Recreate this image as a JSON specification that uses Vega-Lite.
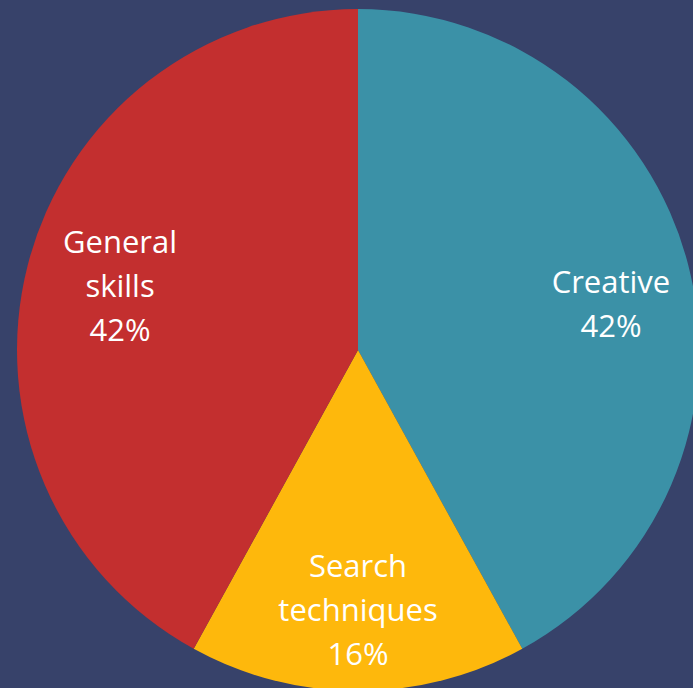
{
  "$schema": "https://vega.github.io/schema/vega-lite/v6.json",
  "width": 716,
  "height": 700,
  "autosize": "none",
  "padding": 0,
  "background": "#37426a",
  "view": {"stroke": null},
  "data": {"values": [
    {"category": "Creative", "value": 42, "idx": 1, "label": "Creative\n42%"},
    {"category": "Search techniques", "value": 16, "idx": 2, "label": "Search\ntechniques\n16%"},
    {"category": "General skills", "value": 42, "idx": 3, "label": "General\nskills\n42%"}
  ]},
  "encoding": {
    "theta": {"field": "value", "type": "quantitative", "stack": true},
    "order": {"field": "idx", "type": "quantitative"}
  },
  "layer": [
    {
      "mark": {"type": "arc", "outerRadius": 341, "stroke": null},
      "encoding": {
        "color": {
          "field": "category", "type": "nominal", "legend": null,
          "scale": {"domain": ["Creative", "Search techniques", "General skills"], "range": ["#3b91a7", "#feb80c", "#c32f2f"]}
        }
      }
    },
    {
      "mark": {"type": "text", "radius": 256, "dx": 5, "dy": -2, "fill": "white", "font": "Open Sans", "fontSize": 31, "lineHeight": 44, "lineBreak": "\n", "align": "center", "baseline": "middle"},
      "encoding": {"text": {"condition": {"test": "datum.category === 'Creative'", "field": "label"}, "value": ""}}
    },
    {
      "mark": {"type": "text", "radius": 256, "dy": -38, "fill": "white", "font": "Open Sans", "fontSize": 31, "lineHeight": 44, "lineBreak": "\n", "align": "center", "baseline": "middle"},
      "encoding": {"text": {"condition": {"test": "datum.category === 'Search techniques'", "field": "label"}, "value": ""}}
    },
    {
      "mark": {"type": "text", "radius": 256, "dx": 10, "dy": -42, "fill": "white", "font": "Open Sans", "fontSize": 31, "lineHeight": 44, "lineBreak": "\n", "align": "center", "baseline": "middle"},
      "encoding": {"text": {"condition": {"test": "datum.category === 'General skills'", "field": "label"}, "value": ""}}
    }
  ]
}
